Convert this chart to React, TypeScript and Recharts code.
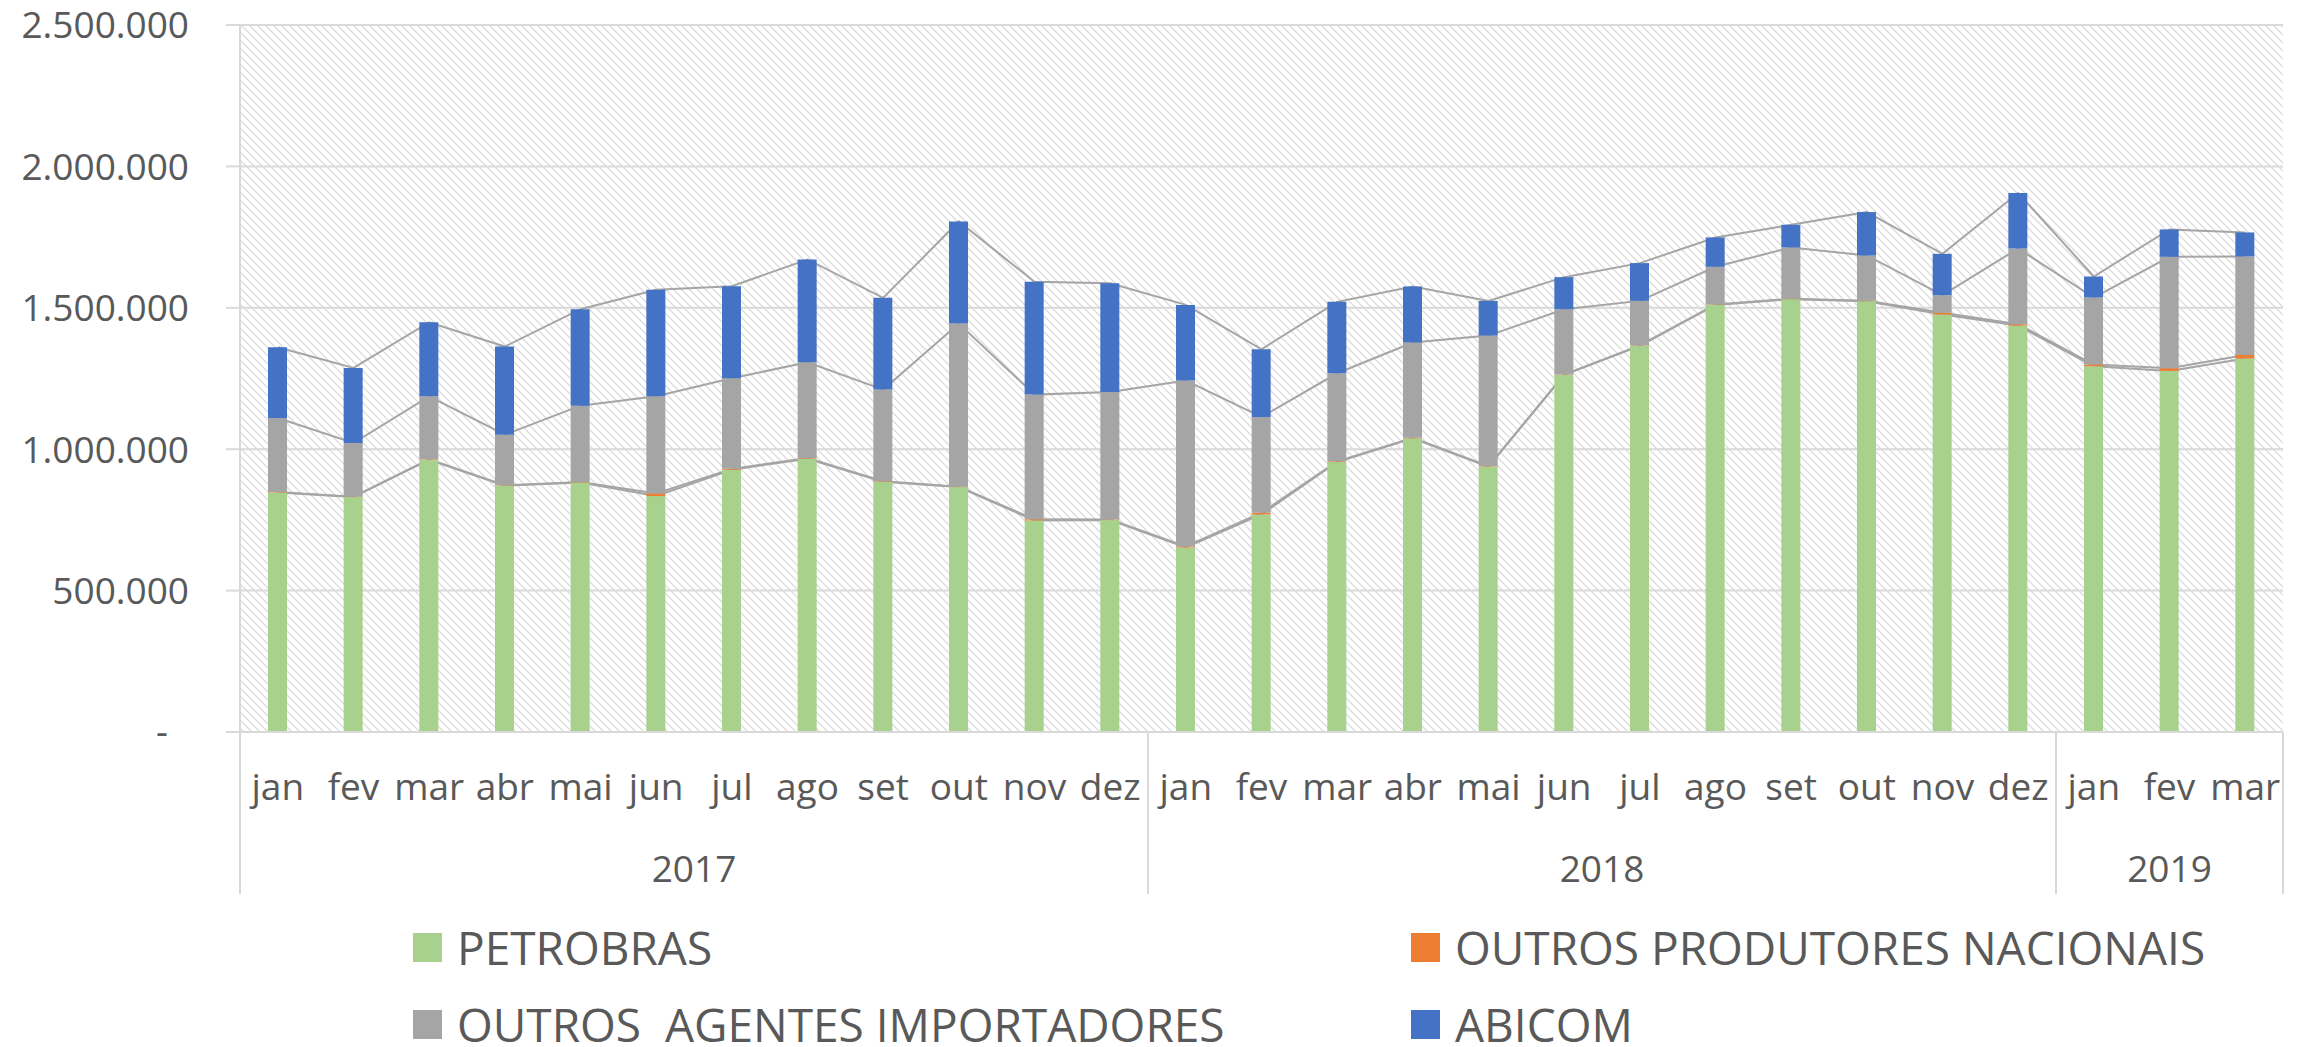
import {
  Bar,
  CartesianGrid,
  ComposedChart,
  Line,
  XAxis,
  YAxis,
} from "recharts";

const months = [
  "jan", "fev", "mar", "abr", "mai", "jun", "jul", "ago", "set", "out", "nov", "dez",
  "jan", "fev", "mar", "abr", "mai", "jun", "jul", "ago", "set", "out", "nov", "dez",
  "jan", "fev", "mar",
];

const years = ["2017", "2018", "2019"];
const monthsPerYear = [12, 12, 3];

const petrobras = [
  847000, 830700, 962900, 870800, 882600, 834300, 927500, 966400, 885000, 866100, 748000, 749300,
  652500, 769300, 954600, 1038400, 938100, 1262600, 1365200, 1510300, 1530500, 1523400, 1476200, 1437200,
  1293300, 1276800, 1320400,
];

const outrosProdutores = [
  1500, 1500, 1500, 1500, 1500, 9300, 3000, 2000, 2000, 1500, 4000, 2000,
  3500, 6000, 2500, 2000, 1500, 1500, 1500, 1500, 1500, 1500, 6000, 4500,
  6000, 9500, 13000,
];

const outrosAgentes = [
  262000, 189800, 222600, 179100, 269900, 343400, 320300, 339000, 323700, 576700, 441000, 451100,
  586500, 338600, 311400, 336700, 462200, 231000, 157800, 133100, 181400, 160100, 62400, 268100,
  237100, 394000, 348100,
];

const abicom = [
  250000, 265500, 262000, 311500, 341000, 376500, 325600, 363500, 324500, 361100, 398800, 384700,
  267800, 239500, 252500, 198200, 122700, 113300, 133500, 103900, 80100, 153500, 146300, 195900,
  74300, 96800, 85000,
];

const yTicks = [0, 500000, 1000000, 1500000, 2000000, 2500000];

const series = [
  { key: "petrobras", name: "PETROBRAS", color: "#a9d18e" },
  { key: "produtores", name: "OUTROS PRODUTORES NACIONAIS", color: "#ed7d31" },
  { key: "agentes", name: "OUTROS  AGENTES IMPORTADORES", color: "#a5a5a5" },
  { key: "abicom", name: "ABICOM", color: "#4472c4" },
];

const data = months.map((m, i) => {
  const c1 = petrobras[i];
  const c2 = c1 + outrosProdutores[i];
  const c3 = c2 + outrosAgentes[i];
  const c4 = c3 + abicom[i];
  return {
    month: m,
    pos: i + 0.5, // centre of the month on the 0..n year scale
    petrobras: petrobras[i],
    produtores: outrosProdutores[i],
    agentes: outrosAgentes[i],
    abicom: abicom[i],
    c1,
    c2,
    c3,
    c4,
  };
});

// year row: boundaries and centers on a 0..n numeric scale
const boundaries: number[] = [0];
const centers: number[] = [];
monthsPerYear.forEach((n) => {
  const start = boundaries[boundaries.length - 1];
  centers.push(start + n / 2);
  boundaries.push(start + n);
});
const yearTicks = [...boundaries, ...centers].sort((a, b) => a - b);

const FONT = "'Open Sans', sans-serif";
const TEXT = "#595959";
const LINE = "#d9d9d9";

const fmt = (v: number) =>
  v === 0 ? "-" : String(v).replace(/\B(?=(\d{3})+(?!\d))/g, ".");

const YTick = ({ x, y, payload }: any) => (
  <text
    x={x + (payload.value === 0 ? -21 : 0)}
    y={y}
    dy="0.36em"
    textAnchor="end"
    fill={TEXT}
    fontSize={37}
    fontFamily={FONT}
  >
    {fmt(payload.value)}
  </text>
);

const MonthTick = ({ x, y, payload }: any) => (
  <text x={x} y={y + 68} textAnchor="middle" fill={TEXT} fontSize={37} fontFamily={FONT}>
    {payload.value}
  </text>
);

const YearTick = ({ x, y, payload }: any) => {
  const bi = boundaries.indexOf(payload.value);
  if (bi >= 0) {
    return <line x1={x} x2={x} y1={y - 90} y2={y + 72} stroke={LINE} strokeWidth={2} />;
  }
  const ci = centers.indexOf(payload.value);
  return (
    <text x={x} y={y + 60} textAnchor="middle" fill={TEXT} fontSize={37} fontFamily={FONT}>
      {years[ci]}
    </text>
  );
};

const App = () => {
  return (
    <div
      style={{
        position: "absolute",
        left: 0,
        top: 0,
        width: 2302,
        height: 1047,
        background: "#fff",
        fontFamily: FONT,
        overflow: "hidden",
      }}
    >
      <ComposedChart
        width={2302}
        height={1047}
        data={data}
        margin={{ top: 25, right: 19, bottom: 153, left: 0 }}
      >
        <defs>
          <pattern id="hatch" width={8} height={8} patternUnits="userSpaceOnUse">
            <path
              d="M0,0 L8,8 M-2,6 L2,10 M6,-2 L10,2"
              stroke="#dcdcdc"
              strokeWidth={1.3}
            />
          </pattern>
        </defs>
        <CartesianGrid
          vertical={false}
          stroke={LINE}
          strokeWidth={2}
          fill="url(#hatch)"
          fillOpacity={1}
        />
        <XAxis
          xAxisId="m"
          dataKey="month"
          height={90}
          interval={0}
          tickLine={false}
          tickSize={0}
          tickMargin={0}
          axisLine={{ stroke: LINE, strokeWidth: 2 }}
          tick={<MonthTick />}
        />
        <XAxis
          xAxisId="yr"
          dataKey="pos"
          type="number"
          domain={[0, months.length]}
          allowDataOverflow
          ticks={yearTicks}
          height={72}
          interval={0}
          tickLine={false}
          tickSize={0}
          tickMargin={0}
          axisLine={false}
          tick={<YearTick />}
        />
        <YAxis
          width={240}
          domain={[0, 2500000]}
          ticks={yTicks}
          interval={0}
          tickSize={14}
          tickMargin={37}
          axisLine={{ stroke: LINE, strokeWidth: 2 }}
          tickLine={{ stroke: LINE, strokeWidth: 2 }}
          tick={<YTick />}
        />
        {["c1", "c2", "c3", "c4"].map((k) => (
          <Line
            key={k}
            xAxisId="m"
            dataKey={k}
            stroke="#a5a5a5"
            strokeWidth={2}
            dot={false}
            activeDot={false}
            isAnimationActive={false}
            legendType="none"
            zIndex={250}
          />
        ))}
        {series.map((s) => (
          <Bar
            key={s.key}
            xAxisId="m"
            dataKey={s.key}
            name={s.name}
            stackId="s"
            fill={s.color}
            barSize={19}
            isAnimationActive={false}
          />
        ))}
      </ComposedChart>
      {series.map((s, i) => (
        <div
          key={s.key}
          style={{
            position: "absolute",
            left: i % 2 === 0 ? 413 : 1411,
            top: (i < 2 ? 947 : 1024) - 20,
            height: 40,
            display: "flex",
            alignItems: "center",
            whiteSpace: "pre",
            color: TEXT,
            fontSize: 46,
            fontFamily: FONT,
            lineHeight: "40px",
          }}
        >
          <span
            style={{
              display: "inline-block",
              width: 29,
              height: 29,
              background: s.color,
              marginRight: 15,
            }}
          />
          {s.name}
        </div>
      ))}
    </div>
  );
};

export default App;
